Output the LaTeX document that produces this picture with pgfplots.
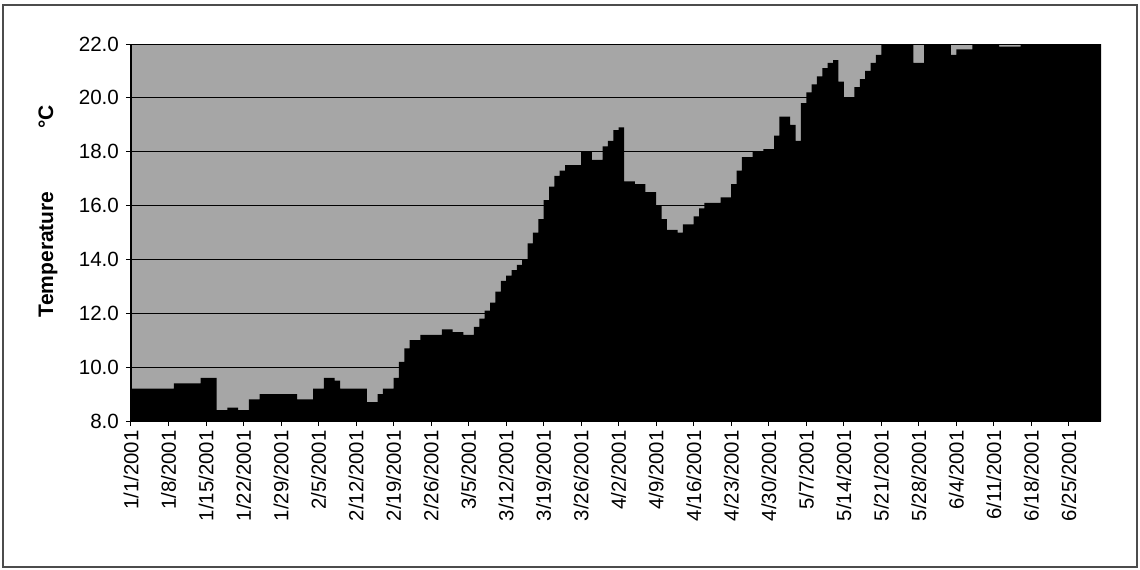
\documentclass[border=0pt]{standalone}
\usepackage{fontspec}
\setmainfont{Liberation Sans}
\usepackage{pgfplots}
\pgfplotsset{compat=1.18}
\begin{document}
\begin{tikzpicture}
\begin{axis}[
  scale only axis,
  width=485pt, height=188.5pt,
  xmin=0, xmax=181, ymin=8, ymax=22,
  axis x line*=bottom, axis y line*=left,
  axis line style={black, line width=0.6pt, -},
  axis background/.style={fill=black!35},
  ytick={8,10,...,22},
  ymajorgrids, grid style={black, line width=0.5pt},
  y tick label style={font=\fontsize{10.3}{12}\selectfont, /pgf/number format/fixed, /pgf/number format/fixed zerofill, /pgf/number format/precision=1, /pgf/number format/assume math mode=true},
  xtick={0,7,...,175},
  xticklabels={1/1/2001,1/8/2001,1/15/2001,1/22/2001,1/29/2001,2/5/2001,2/12/2001,2/19/2001,2/26/2001,3/5/2001,3/12/2001,3/19/2001,3/26/2001,4/2/2001,4/9/2001,4/16/2001,4/23/2001,4/30/2001,5/7/2001,5/14/2001,5/21/2001,5/28/2001,6/4/2001,6/11/2001,6/18/2001,6/25/2001},
  xticklabel style={rotate=90, anchor=east, font=\fontsize{10.2}{12}\selectfont, inner sep=2pt},
  tick align=outside, major tick length=2.5pt, tick style={black, line width=0.5pt},
  ylabel={\textbf{Temperature\hspace{3em}°C}},
  ylabel style={at={(axis description cs:-0.0856,0.557)}, anchor=center, font=\fontsize{10.5}{12}\selectfont},
  clip=true,
]
\addplot[fill=black, draw=none, const plot] coordinates {
(0,9.2) (8,9.4) (13,9.6) (16,8.4) (18,8.5) (20,8.4) (22,8.8) (24,9.0)
(31,8.8) (34,9.2) (36,9.6) (38,9.5) (39,9.2) (44,8.7) (46,9.0) (47,9.2)
(49,9.6) (50,10.2) (51,10.7) (52,11.0) (54,11.2) (58,11.4) (60,11.3) (62,11.2)
(64,11.5) (65,11.8) (66,12.1) (67,12.4) (68,12.8) (69,13.2) (70,13.4) (71,13.6) (72,13.8) (73,14.0)
(74,14.6) (75,15.0) (76,15.5) (77,16.2) (78,16.7) (79,17.1) (80,17.3) (81,17.5) (84,18.0)
(86,17.7) (88,18.2) (89,18.4) (90,18.8) (91,18.9) (92,16.9) (94,16.8) (96,16.5)
(98,16.0) (99,15.5) (100,15.1) (102,15.0) (103,15.3) (105,15.6) (106,15.9) (107,16.1)
(110,16.3) (112,16.8) (113,17.3) (114,17.8) (116,18.0) (118,18.1) (120,18.6) (121,19.3)
(123,19.0) (124,18.4) (125,19.8) (126,20.2) (127,20.5) (128,20.8) (129,21.1) (130,21.3) (131,21.4)
(132,20.6) (133,20.0) (135,20.4) (136,20.7) (137,21.0) (138,21.3) (139,21.6) (140,22.5)
(146,21.3) (148,22.5) (153,21.6) (154,21.8) (157,22.5) (162,21.9) (166,22.5) (181,22.5)
} \closedcycle;
\coordinate (ll) at (rel axis cs:0,0);
\coordinate (ur) at (rel axis cs:1,1);
\end{axis}
\draw[black!70, line width=0.6pt] ([xshift=-64pt,yshift=-73pt]ll) rectangle ([xshift=18pt,yshift=19.5pt]ur);
\path[use as bounding box] ([xshift=-65.5pt,yshift=-74pt]ll) rectangle ([xshift=19.5pt,yshift=22pt]ur);
\end{tikzpicture}
\end{document}
